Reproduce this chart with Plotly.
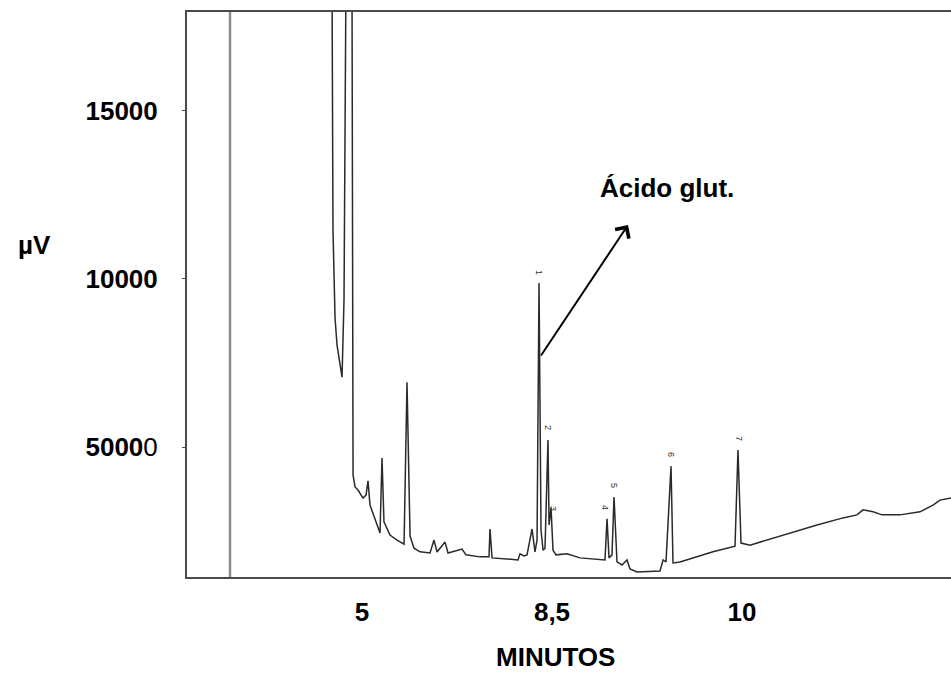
import plotly.graph_objects as go

# Retention time (minutes) and detector signal (µV)
time_min = [4.605, 4.618, 4.645, 4.671, 4.737, 4.763, 4.789, 4.868, 4.882, 4.908,
            4.947, 5.013, 5.053, 5.079, 5.105, 5.171, 5.237, 5.263, 5.289, 5.368,
            5.461, 5.553, 5.592, 5.632, 5.684, 5.763, 5.895, 5.947, 5.987, 6.092,
            6.132, 6.316, 6.368, 6.553, 6.671, 6.684, 6.711, 7.053, 7.079, 7.132,
            7.171, 7.237, 7.276, 7.303, 7.329, 7.355, 7.382, 7.408, 7.447, 7.461,
            7.487, 7.513, 7.553, 7.697, 7.868, 8.197, 8.224, 8.250, 8.289, 8.316,
            8.355, 8.421, 8.487, 8.526, 8.618, 8.921, 8.961, 9.000, 9.066, 9.092,
            9.184, 9.618, 9.908, 9.947, 9.987, 10.105, 10.539, 10.987, 11.329, 11.513,
            11.592, 11.724, 11.842, 12.079, 12.342, 12.513, 12.605, 12.750]
signal_uv = [19000, 11460, 8840, 8040, 7080, 9375, 19000, 19000, 4170, 3810,
             3720, 3480, 3570, 3990, 3270, 2830, 2440, 4670, 2770, 2380,
             2230, 2110, 6930, 2350, 1990, 1880, 1845, 2230, 1875, 2170,
             1845, 1960, 1790, 1730, 1730, 2560, 1700, 1640, 1820, 1760,
             1790, 2560, 1880, 2230, 9880, 2530, 1930, 1990, 5210, 2680,
             3190, 1930, 1790, 1820, 1700, 1640, 2860, 1700, 1790, 3510,
             1580, 1490, 1640, 1370, 1280, 1310, 1640, 1580, 4430, 1550,
             1580, 1880, 2050, 4910, 2140, 2080, 2380, 2680, 2890, 2980,
             3130, 3070, 2980, 2980, 3070, 3270, 3420, 3480]

# Small peak numbers printed above the peaks
peak_labels = ["1", "2", "3", "4", "5", "6", "7"]
peak_label_t = [7.329, 7.447, 7.513, 8.197, 8.316, 9.066, 9.961]
peak_label_y = [10210, 5565, 3185, 3185, 3869, 4792, 5268]

# Axis ticks (as printed on the original)
x_tickvals = [5, 7.5, 10]
x_ticktext = ["<b>5</b>", "<b>8,5</b>", "<b>10</b>"]
y_tickvals = [5000, 10000, 15000]
y_ticktext = ["<b>5000</b>0", "<b>10000</b>", "<b>15000</b>"]

x_range = [2.697, 12.750]
y_range = [1131, 17946]
injection_t = 3.263

# Annotation arrow (Ácido glutámico)
arrow_tail = (7.342, 7678)
arrow_head = (8.50, 11607)
label_pos = (9.013, 12708)

FONT = "Liberation Sans, Arial, sans-serif"
FS = 26

fig = go.Figure()
fig.add_trace(go.Scatter(x=time_min, y=signal_uv, mode="lines",
                         line=dict(color="#2a2a2a", width=1.5),
                         showlegend=False, hoverinfo="skip"))

fig.add_shape(type="line", xref="x", yref="paper", x0=injection_t, x1=injection_t,
              y0=0, y1=1, line=dict(color="#8c8c8c", width=2.5))

for txt, t, y in zip(peak_labels, peak_label_t, peak_label_y):
    fig.add_annotation(x=t, y=y, text=txt, showarrow=False, textangle=90,
                       font=dict(family=FONT, size=9, color="#333"))

fig.add_annotation(x=arrow_head[0], y=arrow_head[1], ax=arrow_tail[0], ay=arrow_tail[1],
                   xref="x", yref="y", axref="x", ayref="y", text="",
                   showarrow=True, arrowhead=4, arrowsize=1.6, arrowwidth=2,
                   arrowcolor="black", standoff=0, startstandoff=0)
fig.add_annotation(x=label_pos[0], y=label_pos[1], xref="x", yref="y",
                   text="<b>Ácido glut.</b>", showarrow=False,
                   xanchor="center", yanchor="middle",
                   font=dict(family=FONT, size=FS, color="black"))

fig.add_annotation(x=-0.199, y=0.588, xref="paper", yref="paper", text="<b>µV</b>",
                   showarrow=False, xanchor="center", yanchor="middle",
                   font=dict(family=FONT, size=FS, color="black"))
fig.add_annotation(x=0.482, y=-0.142, xref="paper", yref="paper", text="<b>MINUTOS</b>",
                   showarrow=False, xanchor="center", yanchor="middle",
                   font=dict(family=FONT, size=FS, color="black"))

fig.update_layout(
    width=951, height=674,
    margin=dict(l=187, r=0, t=12, b=97),
    paper_bgcolor="white", plot_bgcolor="white",
    font=dict(family=FONT, size=FS, color="black"),
    xaxis=dict(range=x_range, tickvals=x_tickvals, ticktext=x_ticktext,
               showgrid=False, zeroline=False, showline=True, mirror=True,
               linecolor="#4a4a4a", linewidth=2, ticks="", ticklabelstandoff=11,
               tickfont=dict(family=FONT, size=FS, color="black")),
    yaxis=dict(range=y_range, tickvals=y_tickvals, ticktext=y_ticktext,
               showgrid=False, zeroline=False, showline=True, mirror=False,
               linecolor="#4a4a4a", linewidth=2, ticks="outside", ticklen=3,
               tickcolor="#4a4a4a", ticklabelstandoff=19,
               tickfont=dict(family=FONT, size=FS, color="black")),
)

fig.write_html("out.html", config={"displayModeBar": False},
               post_script="document.body.style.margin='0px';")
